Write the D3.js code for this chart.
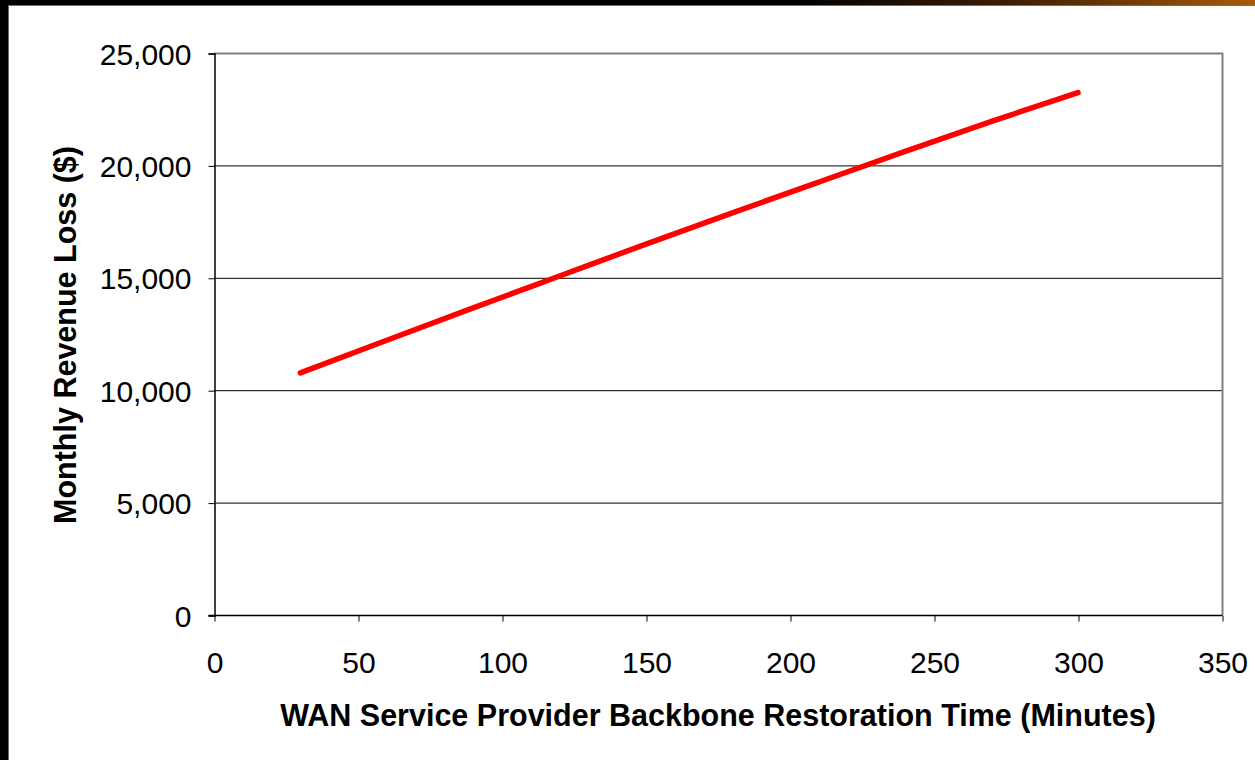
<!DOCTYPE html>
<html>
<head>
<meta charset="utf-8">
<script src="https://cdn.jsdelivr.net/npm/d3@7/dist/d3.min.js"></script>
<style>
  html, body { margin: 0; padding: 0; background: #000; }
  svg { display: block; }
</style>
</head>
<body>
<svg id="chart" width="1255" height="760"></svg>
<script>
// Restoration time (minutes) vs. monthly revenue loss ($)
const restorationMinutes = [30, 60, 90, 120, 150, 180, 210, 240, 270, 300];
const revenueLoss = [10770, 12220, 13660, 15080, 16500, 17890, 19260, 20620, 21960, 23240];
const xTickValues = [0, 50, 100, 150, 200, 250, 300, 350];
const yTickValues = [0, 5000, 10000, 15000, 20000, 25000];

const svg = d3.select("#chart");
const W = 1255, H = 760;

// Slide frame: black edges with an amber gradient across the top right
const defs = svg.append("defs");
const grad = defs.append("linearGradient").attr("id", "topBar")
  .attr("x1", "0%").attr("x2", "100%").attr("y1", "0%").attr("y2", "0%");
grad.append("stop").attr("offset", "0%").attr("stop-color", "#000");
grad.append("stop").attr("offset", "63%").attr("stop-color", "#000");
grad.append("stop").attr("offset", "80%").attr("stop-color", "#3a1c05");
grad.append("stop").attr("offset", "100%").attr("stop-color", "#a85a08");

svg.append("rect").attr("x", 0).attr("y", 0).attr("width", W).attr("height", H).attr("fill", "#000");
svg.append("rect").attr("x", 0).attr("y", 0).attr("width", W).attr("height", 5).attr("fill", "url(#topBar)");
svg.append("rect").attr("x", 8).attr("y", 5).attr("width", W - 8).attr("height", H - 5).attr("fill", "#6e6e6e");
svg.append("rect").attr("x", 9).attr("y", 6).attr("width", W - 9).attr("height", H - 6).attr("fill", "#fff");

const plot = { left: 214, right: 1222, top: 53, bottom: 615 };

const x = d3.scaleLinear().domain([0, 350]).range([plot.left, plot.right]);
const y = d3.scaleLinear().domain([0, 25000]).range([plot.bottom, plot.top]);

const font = "'Liberation Sans', Arial, sans-serif";

// Horizontal gridlines
svg.append("g")
  .selectAll("line")
  .data(yTickValues.filter(v => v > 0 && v < 25000))
  .join("line")
  .attr("x1", plot.left).attr("x2", plot.right)
  .attr("y1", d => y(d) + 0.5).attr("y2", d => y(d) + 0.5)
  .attr("stroke", "#000").attr("stroke-width", 1);

// Plot area border (top and right)
svg.append("line")
  .attr("x1", plot.left).attr("x2", plot.right + 1)
  .attr("y1", plot.top + 0.5).attr("y2", plot.top + 0.5)
  .attr("stroke", "#808080").attr("stroke-width", 2);
svg.append("line")
  .attr("x1", plot.right + 0.5).attr("x2", plot.right + 0.5)
  .attr("y1", plot.top).attr("y2", plot.bottom)
  .attr("stroke", "#808080").attr("stroke-width", 2);

// Y axis
const yAxis = d3.axisLeft(y)
  .tickValues(yTickValues)
  .tickSize(6)
  .tickPadding(17)
  .tickFormat(d3.format(","));
const gy = svg.append("g")
  .attr("transform", `translate(${plot.left + 0.5},0.5)`)
  .call(yAxis);
gy.select(".domain").attr("stroke", "#000").attr("stroke-width", 1.5);
gy.selectAll(".tick line").attr("stroke", "#000");
gy.selectAll(".tick text")
  .style("font-family", font).style("font-size", "30px").attr("fill", "#000")
  .attr("dy", "0.35em");

// X axis
const xAxis = d3.axisBottom(x)
  .tickValues(xTickValues)
  .tickSize(6)
  .tickPadding(0)
  .tickSizeOuter(0);
const gx = svg.append("g")
  .attr("transform", `translate(0.5,${plot.bottom + 0.5})`)
  .call(xAxis);
gx.select(".domain").attr("stroke", "#000").attr("stroke-width", 1.5)
  .attr("d", `M${plot.left - 6},0H${plot.right}`);
gx.selectAll(".tick line").attr("stroke", "#000");
gx.selectAll(".tick text")
  .style("font-family", font).style("font-size", "30px").attr("fill", "#000")
  .attr("y", 57).attr("dy", null);

// Data line
const line = d3.line()
  .x((d, i) => x(restorationMinutes[i]))
  .y(d => y(d))
  .curve(d3.curveMonotoneX);
svg.append("path")
  .datum(revenueLoss)
  .attr("d", line)
  .attr("fill", "none")
  .attr("stroke", "#ff0000")
  .attr("stroke-width", 5.5)
  .attr("stroke-linecap", "round")
  .attr("stroke-linejoin", "round");

// Axis titles
svg.append("text")
  .attr("x", (plot.left + plot.right) / 2)
  .attr("y", 726)
  .attr("text-anchor", "middle")
  .style("font-family", font).style("font-size", "30.5px").style("font-weight", "bold")
  .text("WAN Service Provider Backbone Restoration Time (Minutes)");

svg.append("text")
  .attr("transform", `translate(76,${(plot.top + plot.bottom) / 2 + 1}) rotate(-90)`)
  .attr("text-anchor", "middle")
  .style("font-family", font).style("font-size", "30.5px").style("font-weight", "bold")
  .text("Monthly Revenue Loss ($)");
</script>
</body>
</html>
